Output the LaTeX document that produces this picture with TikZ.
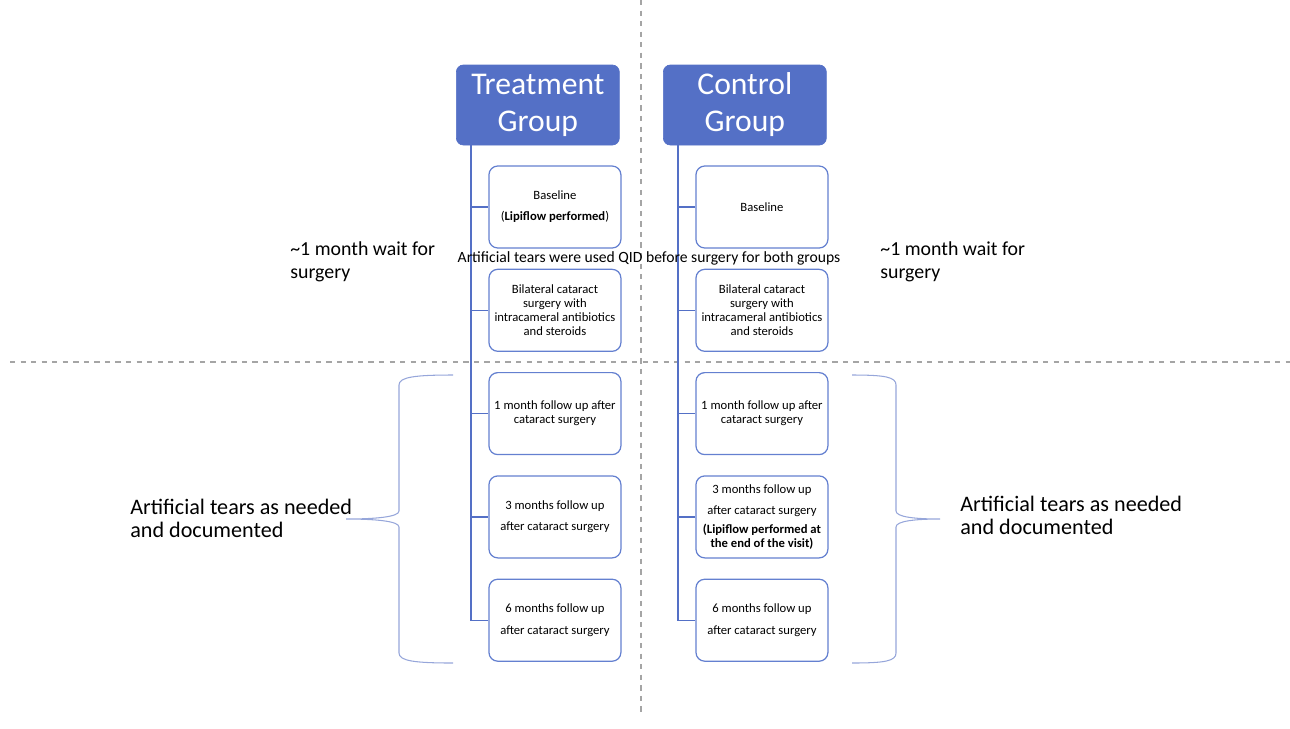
\documentclass[tikz,border=0pt]{standalone}
\usepackage{fontspec}
\setmainfont{Carlito}
\usetikzlibrary{trees}
\definecolor{groupblue}{RGB}{84,112,198}
\definecolor{boxblue}{RGB}{100,128,208}
\definecolor{bracecol}{RGB}{150,166,218}
\definecolor{divgray}{RGB}{165,165,165}
\tikzstyle{group}=[fill=groupblue,draw=groupblue,rounded corners=4pt,text=white,anchor=west,align=center,minimum width=3.26cm,minimum height=1.6cm,inner sep=0pt,font=\fontsize{18}{21}\selectfont]
\tikzstyle{visit}=[draw=boxblue,line width=0.7pt,rounded corners=5pt,fill=white,anchor=west,align=center,minimum width=2.64cm,minimum height=1.64cm,inner sep=0pt,font=\fontsize{7.2}{8}\selectfont]
\tikzstyle{note}=[anchor=west,align=left,inner sep=0pt,font=\fontsize{12.6}{13}\selectfont]
\tikzstyle{divider}=[divgray,dashed,line width=0.6pt]
\tikzstyle{brace}=[bracecol,line width=0.6pt]

\begin{document}
\begin{tikzpicture}[x=0.02cm,y=-0.02cm,
  grow via three points={one child at (-49.5,102) and
  two children at (-49.5,102) and (-49.5,205.3)},
  edge from parent/.style={draw=groupblue,line width=0.8pt},
  edge from parent path={([xshift=0.3cm]\tikzparentnode.south west) |- (\tikzchildnode.west)}]
  \useasboundingbox (0,0) rectangle (1290,728);
  % dashed dividers
  \draw[divider] (641,0) -- (641,715);
  \draw[divider] (10,362) -- (1290,362);
  % treatment column
  \node[group] (treat) at (456,105) {Treatment\\Group}
    child { node[visit] (t1) {Baseline\\[4pt](\textbf{Lipiflow performed})} }
    child { node[visit] (t2) {Bilateral cataract\\surgery with\\intracameral antibiotics\\and steroids} }
    child { node[visit] (t3) {1 month follow up after\\cataract surgery} }
    child { node[visit] (t4) {3 months follow up\\[4pt]after cataract surgery} }
    child { node[visit] (t5) {6 months follow up\\[4pt]after cataract surgery} };
  % control column
  \node[group] (ctrl) at (663,105) {Control\\Group}
    child { node[visit] (c1) {Baseline} }
    child { node[visit] (c2) {Bilateral cataract\\surgery with\\intracameral antibiotics\\and steroids} }
    child { node[visit] (c3) {1 month follow up after\\cataract surgery} }
    child { node[visit] (c4) {3 months follow up\\[4pt]after cataract surgery\\[3pt]\textbf{(Lipiflow performed at}\\\textbf{the end of the visit)}} }
    child { node[visit] (c5) {6 months follow up\\[4pt]after cataract surgery} };
  % notes
  \node[note,font=\fontsize{11.3}{13}\selectfont] (waitL) at (290,262) {\textasciitilde1 month wait for\\surgery};
  \node[note,font=\fontsize{11.3}{13}\selectfont] (waitR) at (880,262) {\textasciitilde1 month wait for\\surgery};
  \node[anchor=center,inner sep=0pt,font=\fontsize{8.9}{11}\selectfont] (tears) at (649,258) {Artificial tears were used QID before surgery for both groups};
  \node[note] (prnL) at (130,518) {Artificial tears as needed\\and documented};
  \node[note] (prnR) at (960,515) {Artificial tears as needed\\and documented};
  % braces
  \draw[brace] (453,375) .. controls (415,375) and (399,377) .. (399,385) -- (399,511)
    .. controls (399,517) and (375,519) .. (346,519)
    .. controls (375,519) and (399,521) .. (399,527) -- (399,653)
    .. controls (399,661) and (415,663) .. (453,663);
  \draw[brace] (852,375) .. controls (885,375) and (896,377) .. (896,385) -- (896,511)
    .. controls (896,517) and (915,519) .. (940,519)
    .. controls (915,519) and (896,521) .. (896,527) -- (896,653)
    .. controls (896,661) and (885,663) .. (852,663);
\end{tikzpicture}
\end{document}
